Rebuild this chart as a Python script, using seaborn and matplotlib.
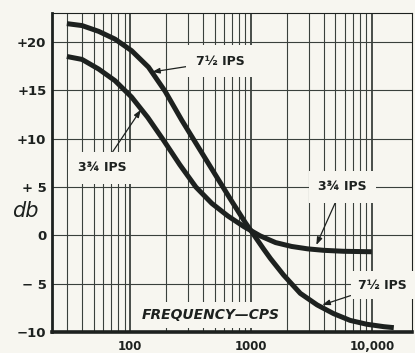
import matplotlib
matplotlib.use("Agg")
import matplotlib.pyplot as plt
import pandas as pd
import seaborn as sns
from matplotlib.ticker import FixedLocator, NullFormatter

# Playback response of the two tape speeds (frequency in cps, level in db)
freq_7_5 = [30, 40, 55, 75, 103, 142, 195, 268, 368, 500, 680, 900, 1050,
            1270, 1450, 1860, 2560, 3530, 4830, 6620, 9090, 12600, 15200]
db_7_5 = [21.9, 21.7, 21.1, 20.3, 19.1, 17.4, 14.9, 11.9, 9.1, 6.4, 3.7, 1.3,
          0.1, -1.4, -2.4, -4.1, -6.0, -7.2, -8.1, -8.8, -9.2, -9.45, -9.55]

freq_3_75 = [30, 40, 55, 75, 103, 140, 190, 258, 350, 475, 645, 875, 1190,
             1600, 2170, 2950, 4000, 5840, 10000]
db_3_75 = [18.5, 18.2, 17.2, 16.0, 14.3, 12.2, 9.8, 7.3, 5.0, 3.3, 2.0, 0.9,
           -0.05, -0.75, -1.15, -1.4, -1.55, -1.65, -1.7]

series_names = ["7½ IPS", "3¾ IPS"]

y_ticks = [-10, -5, 0, 5, 10, 15, 20]
y_tick_labels = ["−10", "− 5", "0", "+ 5", "+10", "+15", "+20"]
x_ticks = [100, 1000, 10000]
x_tick_labels = ["100", "1000", "10,000"]

df = pd.concat([
    pd.DataFrame({"freq": freq_7_5, "db": db_7_5, "speed": series_names[0]}),
    pd.DataFrame({"freq": freq_3_75, "db": db_3_75, "speed": series_names[1]}),
])

paper = "#f7f6f0"
ink = "#1d211f"
grid_ink = "#3a403c"

sns.set_style("white")
plt.rcParams["font.family"] = ["DejaVu Sans"]

fig = plt.figure(figsize=(4.15, 3.53), dpi=100, facecolor=paper)
ax = fig.add_axes([52 / 415, 21 / 353, 360 / 415, 319 / 353])
ax.set_facecolor(paper)

sns.lineplot(data=df, x="freq", y="db", hue="speed",
             palette=[ink, ink], linewidth=3.6, legend=False,
             sort=False, ax=ax, zorder=5)
for line in ax.get_lines():
    line.set_solid_joinstyle("round")
    line.set_solid_capstyle("butt")

ax.set_xscale("log")
ax.set_xlim(22.6, 21500)
ax.set_ylim(-10, 23)

# log graph-paper grid
minor = [m * d for d in (10, 100, 1000) for m in range(2, 10) if 22.6 < m * d < 21500]
ax.xaxis.set_major_locator(FixedLocator(x_ticks))
ax.xaxis.set_minor_locator(FixedLocator(minor))
ax.xaxis.set_minor_formatter(NullFormatter())
ax.set_xticklabels(x_tick_labels)
ax.set_yticks(y_ticks)
ax.set_yticklabels(y_tick_labels)

ax.grid(which="major", axis="x", color=grid_ink, linewidth=1.3, zorder=0)
ax.grid(which="minor", axis="x", color=grid_ink, linewidth=0.8, zorder=0)
ax.grid(which="major", axis="y", color=grid_ink, linewidth=0.8, zorder=0)
ax.set_axisbelow(True)

ax.tick_params(which="both", length=0)
ax.tick_params(axis="x", pad=6, labelsize=8.5, colors=ink)
ax.tick_params(axis="y", pad=4, labelsize=9.5, colors=ink)
for lab in ax.get_xticklabels() + ax.get_yticklabels():
    lab.set_fontweight("bold")

for side, lw in (("left", 2.0), ("bottom", 2.6), ("top", 0.8), ("right", 0.8)):
    ax.spines[side].set_color(ink)
    ax.spines[side].set_linewidth(lw)

ax.set_xlabel("")
ax.set_ylabel("")

box = dict(boxstyle="square,pad=0.75", facecolor=paper, edgecolor="none")
arrow = dict(arrowstyle="-|>,head_length=0.5,head_width=0.18", color=ink,
             linewidth=0.9, shrinkA=0, shrinkB=0)
label_kw = dict(fontsize=9, fontweight="bold", color=ink, ha="center",
                va="center", bbox=box, zorder=3, arrowprops=arrow)

ax.annotate(series_names[0], xy=(152, 16.9), xytext=(556, 18.0), **label_kw)
ax.annotate(series_names[1], xy=(123, 13.0), xytext=(58.6, 7.0), **label_kw)
ax.annotate(series_names[1], xy=(3475, -1.0), xytext=(5700, 5.0), **label_kw)
ax.annotate(series_names[0], xy=(3890, -7.2), xytext=(12250, -5.15),
            **{**label_kw, "bbox": dict(boxstyle="square,pad=0.6",
                                        facecolor=paper, edgecolor="none")})

ax.text(469, -8.25, "FREQUENCY—CPS", fontsize=10, fontweight="bold",
        fontstyle="italic", color=ink, ha="center", va="center", zorder=3,
        bbox=dict(boxstyle="square,pad=0.45", facecolor=paper, edgecolor="none"))

fig.text(25 / 415, 1 - 211 / 353, "db", fontsize=15, fontstyle="italic",
         color=ink, ha="center", va="center")

fig.savefig("out.png", dpi=100, facecolor=paper)
